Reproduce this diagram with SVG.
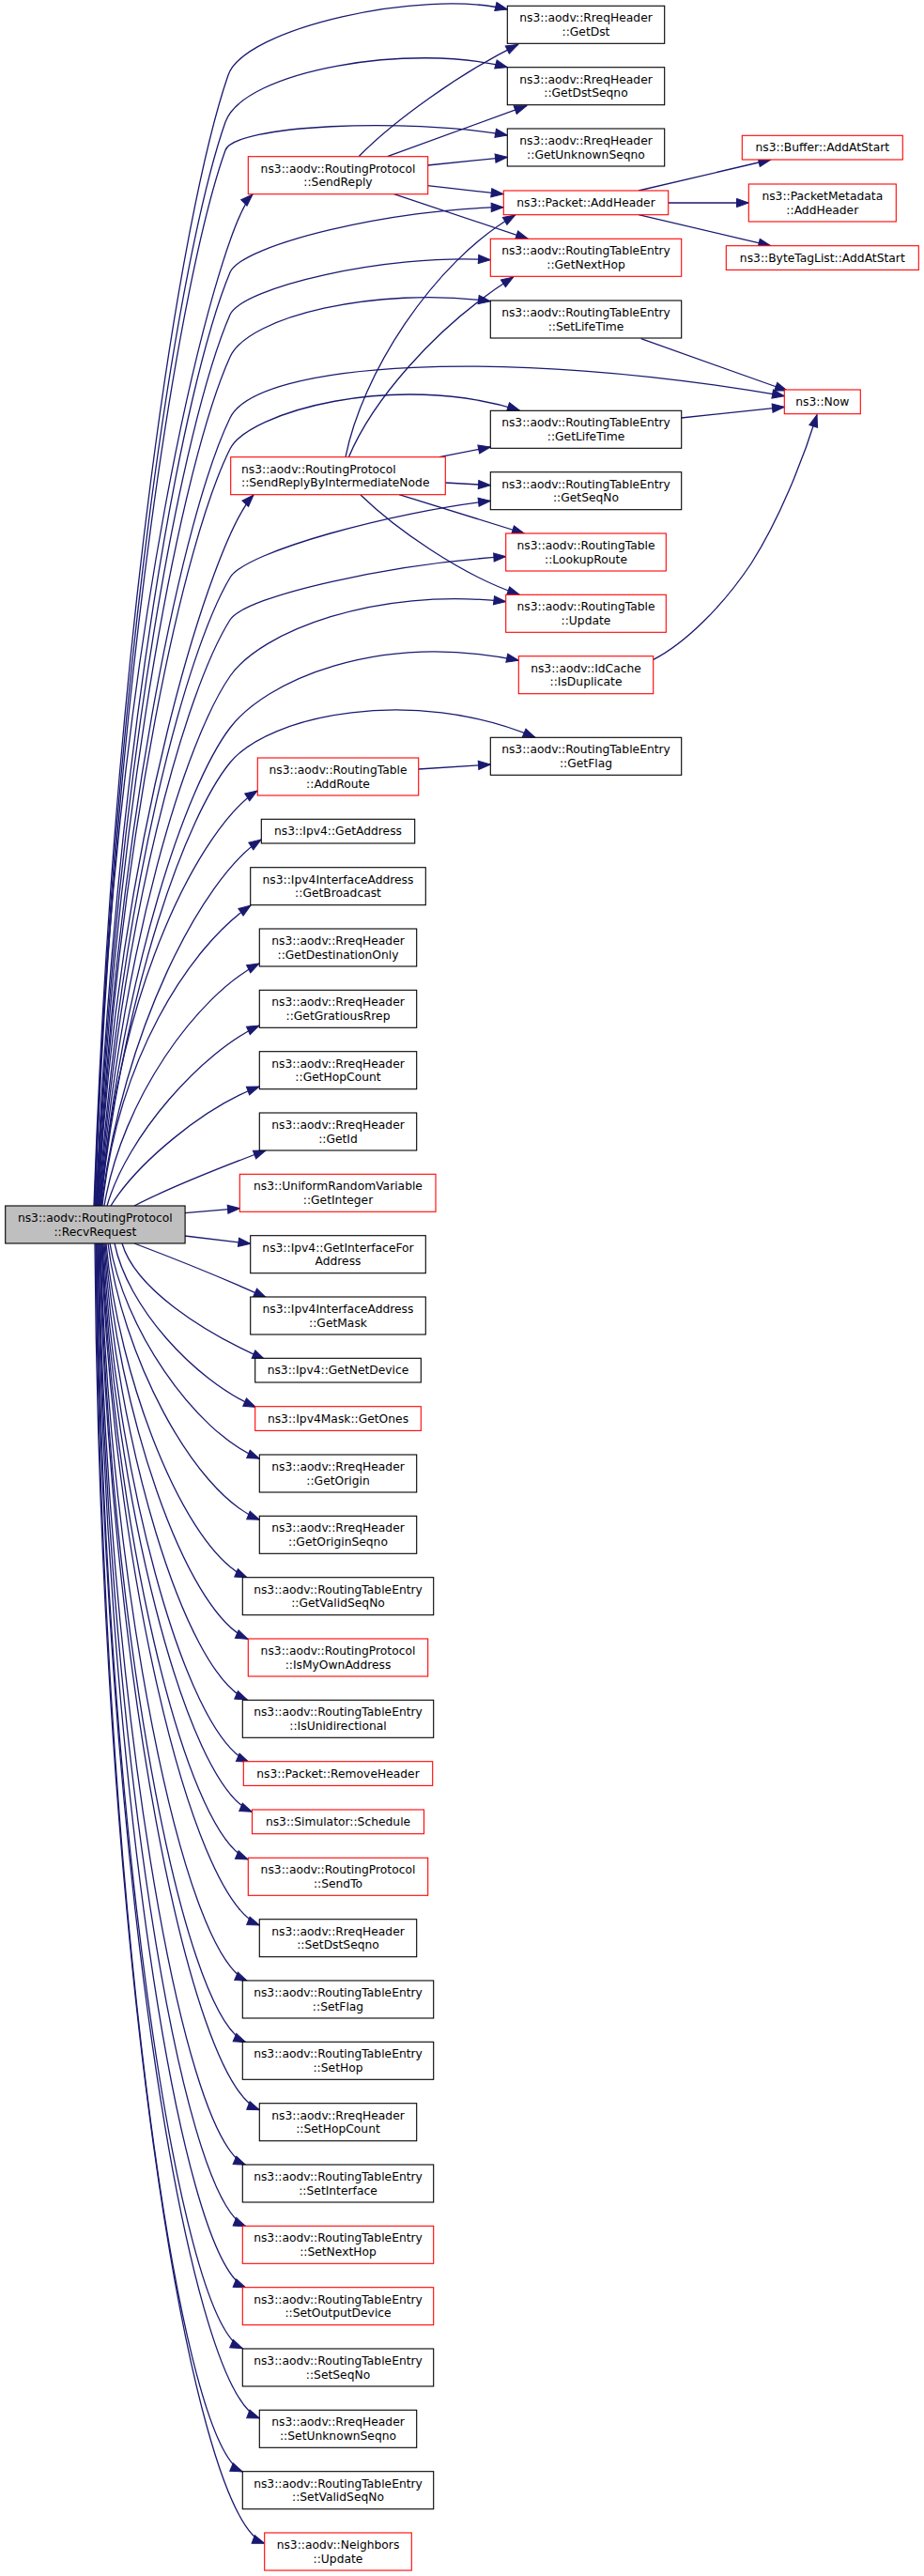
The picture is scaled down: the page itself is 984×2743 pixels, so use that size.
<svg xmlns="http://www.w3.org/2000/svg" width="984" height="2743" viewBox="0 0 984 2743">
<style>
.n rect{fill:#fff;stroke:#000;stroke-width:1.1}
.r rect{stroke:#f00}
.root rect{fill:#bfbfbf;stroke:#000;stroke-width:1.1}
text{font-family:"DejaVu Sans","Liberation Sans",sans-serif;font-size:12.3px;text-anchor:middle;fill:#000}
text.l{text-anchor:start}
#edges path{fill:none;stroke:#191970;stroke-width:1.3;marker-end:url(#a)}
</style>
<defs>
<marker id="a" markerUnits="userSpaceOnUse" viewBox="0 0 15 10" markerWidth="15" markerHeight="10" refX="13.3" refY="5" orient="auto" overflow="visible">
<path d="M0.5,0.4 L13.3,5 L0.5,9.6 Z" fill="#191970" stroke="#191970" stroke-width="1"/>
</marker>
</defs>
<rect width="984" height="2743" fill="#fff"/>
<g id="edges">
<path d="M100,1284 C121.5,682 193,224.5 243,80 C260.5,29.4 450,-12 540.3,10"/>
<path d="M100.5,1284 C121.9,707 191.3,268.5 240,130 C259.5,74.6 440,45 540.3,71.7"/>
<path d="M101,1284 C122.7,722 191.7,294.9 240,160 C249.7,133 430,125 540.3,144"/>
<path d="M101.5,1284 C115,700 230,245 269,207"/>
<path d="M102,1284 C124.3,787 195.3,409.3 245,290 C257.4,260.2 420,222 536,220.7"/>
<path d="M102.5,1284 C125,809.5 195.6,448.9 245,335 C257.4,306.5 410,270 522.3,276.7"/>
<path d="M103,1284 C126,832 196,488.5 245,380 C264.6,336.6 400,305 522.3,320.7"/>
<path d="M103.5,1284 C126.9,864.5 196.4,545.7 245,445 C274,384.6 540,370 835.3,421.7"/>
<path d="M104,1284 C127.7,881 196.7,574.7 245,478 C264.3,439.3 420,395 553.3,437"/>
<path d="M104.5,1284 C125,900 225,575 270,527"/>
<path d="M105,1284 C129.4,949.5 197.4,695.3 245,615 C261.7,586.9 420,545 522.3,533.3"/>
<path d="M105.5,1284 C130.3,972 197.8,734.9 245,660 C261.5,633.8 420,600 538.7,592.7"/>
<path d="M106,1284 C131.1,1002 198.1,787.7 245,720 C277.8,672.6 400,625 538.7,640.7"/>
<path d="M106.5,1284 C132,1029.5 198.5,836.1 245,775 C282.2,726.1 400,672 552.3,703.3"/>
<path d="M107,1284 C132.8,1048 198.8,868.6 245,812 C286.6,761 440,730 570,785.3"/>
<path d="M107.5,1284 C125,1050 215,880 274,842"/>
<path d="M108,1284 C130,1100 215,935 278,894"/>
<path d="M109,1284 C125,1130 200,1010 267,964"/>
<path d="M111,1284 C130,1170 210,1060 276,1026"/>
<path d="M114,1284 C135,1210 215,1120 276,1092"/>
<path d="M118,1284 C145,1240 215,1180 276,1157"/>
<path d="M143,1284 C170,1270 230,1245 283,1225"/>
<path d="M196.7,1291.7 L255.3,1286.7"/>
<path d="M196.7,1316 L266.7,1324.3"/>
<path d="M143,1324 C180,1338 240,1362 283.3,1381.7"/>
<path d="M130,1324 C143.7,1370.9 213.4,1417.3 281.7,1447.3"/>
<path d="M122,1324 C135.5,1390.2 204.7,1468.3 272.3,1498.3"/>
<path d="M117,1324 C131.3,1411.4 204.6,1523.3 276.3,1553.3"/>
<path d="M115,1324 C128.9,1438.5 203.7,1588.3 276.3,1618.3"/>
<path d="M113,1324 C125.5,1465.3 195.7,1650 263.3,1680"/>
<path d="M112,1324 C124.1,1495 195.6,1715.3 264,1745.3"/>
<path d="M111,1324 C122.6,1525.2 194.8,1780 263.3,1810"/>
<path d="M110,1324 C121.3,1557.6 195.3,1846.3 265,1876.3"/>
<path d="M109,1324 C120.2,1584.3 196.6,1899.3 268.3,1929.3"/>
<path d="M108.5,1324 C119,1610 194,1950 264,1980"/>
<path d="M108,1324 C118.8,1647.1 200.6,2020 276.3,2050"/>
<path d="M107,1324 C116.5,1679.7 193,2079.3 263.3,2109.3"/>
<path d="M106.5,1324 C115.4,1716.2 191.9,2144.7 261.7,2174.7"/>
<path d="M106,1324 C115.1,1758.6 199.7,2216.7 276.3,2246.7"/>
<path d="M105,1324 C112.9,1793.1 191.2,2275.3 261.7,2305.3"/>
<path d="M104.5,1324 C111.9,1833.7 191,2340.7 261.7,2370.7"/>
<path d="M104,1324 C110.9,1874.4 190.7,2406 261.7,2436"/>
<path d="M103,1324 C109.3,1917 188.4,2470.7 258.3,2500.7"/>
<path d="M102.5,1324 C108.9,1965.8 198.1,2545 276.3,2575"/>
<path d="M102,1324 C107.3,2005.5 188,2602 258.3,2632"/>
<path d="M101,1324 C106.4,2057.7 200.4,2678.3 281.7,2708.3"/>
<path d="M382,166.7 C420,128 490,78 551.7,47.3"/>
<path d="M412.5,166.7 L560.7,112.7"/>
<path d="M455.3,176 L540.3,167.3"/>
<path d="M455.3,197.7 L536,206.7"/>
<path d="M419.6,206.7 L562.3,254.3"/>
<path d="M368,486.7 C385,400 460,280 548.7,229"/>
<path d="M371.4,486.7 C395,430 460,350 546.7,295"/>
<path d="M467.9,486.7 L522.3,476"/>
<path d="M474.3,514 L522.3,516.7"/>
<path d="M425,526.7 L558.3,568"/>
<path d="M384,527 C420,562 490,612 553.3,633.3"/>
<path d="M680,203 L820.7,170"/>
<path d="M711.3,216 L797.3,216"/>
<path d="M680,228.7 L820.7,261.7"/>
<path d="M682.7,360.7 L838.3,416"/>
<path d="M725.3,445 L835.3,433.3"/>
<path d="M695.3,702.7 C730,685 770,645 800,600 C830,553 855,490 870,441.7"/>
<path d="M445.4,819 L522.3,814"/>
</g>
<g id="n_root" class="root"><rect x="5.7" y="1284" width="191.4" height="40"/><text x="101.3" y="1301">ns3::aodv::RoutingProtocol</text><text x="101.3" y="1315.5">::RecvRequest</text></g>
<g id="n_getdst" class="n"><rect x="540.3" y="6.3" width="167.4" height="40"/><text x="624" y="23.3">ns3::aodv::RreqHeader</text><text x="624" y="37.8">::GetDst</text></g>
<g id="n_getdstseqno" class="n"><rect x="540.3" y="71.7" width="167.4" height="40"/><text x="624" y="88.7">ns3::aodv::RreqHeader</text><text x="624" y="103.2">::GetDstSeqno</text></g>
<g id="n_getunknownseqno" class="n"><rect x="540.3" y="137" width="167.4" height="40"/><text x="624" y="154">ns3::aodv::RreqHeader</text><text x="624" y="168.5">::GetUnknownSeqno</text></g>
<g id="n_addheader" class="n r"><rect x="536.3" y="203" width="175.4" height="25.7"/><text x="624" y="220">ns3::Packet::AddHeader</text></g>
<g id="n_getnexthop" class="n r"><rect x="522.3" y="254.3" width="203.4" height="40"/><text x="624" y="271.3">ns3::aodv::RoutingTableEntry</text><text x="624" y="285.8">::GetNextHop</text></g>
<g id="n_setlifetime" class="n"><rect x="522.3" y="320" width="203.4" height="40"/><text x="624" y="337">ns3::aodv::RoutingTableEntry</text><text x="624" y="351.5">::SetLifeTime</text></g>
<g id="n_getlifetime" class="n"><rect x="522.3" y="437.3" width="203.4" height="40"/><text x="624" y="454.3">ns3::aodv::RoutingTableEntry</text><text x="624" y="468.8">::GetLifeTime</text></g>
<g id="n_getseqno" class="n"><rect x="522.3" y="502.7" width="203.4" height="40"/><text x="624" y="519.7">ns3::aodv::RoutingTableEntry</text><text x="624" y="534.2">::GetSeqNo</text></g>
<g id="n_lookuproute" class="n r"><rect x="538.7" y="568" width="170.6" height="40"/><text x="624" y="585">ns3::aodv::RoutingTable</text><text x="624" y="599.5">::LookupRoute</text></g>
<g id="n_rtupdate" class="n r"><rect x="538.7" y="633.3" width="170.6" height="40"/><text x="624" y="650.3">ns3::aodv::RoutingTable</text><text x="624" y="664.8">::Update</text></g>
<g id="n_isduplicate" class="n r"><rect x="552.3" y="698.7" width="143.4" height="40"/><text x="624" y="715.7">ns3::aodv::IdCache</text><text x="624" y="730.2">::IsDuplicate</text></g>
<g id="n_getflag" class="n"><rect x="522.3" y="785.3" width="203.4" height="40"/><text x="624" y="802.3">ns3::aodv::RoutingTableEntry</text><text x="624" y="816.8">::GetFlag</text></g>
<g id="n_bufferaddatstart" class="n r"><rect x="790.3" y="144.3" width="171" height="25.7"/><text x="875.8" y="161.3">ns3::Buffer::AddAtStart</text></g>
<g id="n_pmaddheader" class="n r"><rect x="797.3" y="196" width="157" height="40"/><text x="875.8" y="213">ns3::PacketMetadata</text><text x="875.8" y="227.5">::AddHeader</text></g>
<g id="n_bytetaglist" class="n r"><rect x="773.3" y="261.7" width="205" height="25.7"/><text x="875.8" y="278.7">ns3::ByteTagList::AddAtStart</text></g>
<g id="n_now" class="n r"><rect x="835.3" y="415" width="81" height="25.7"/><text x="875.8" y="432">ns3::Now</text></g>
<g id="n_sendreply" class="n r"><rect x="264.3" y="166.7" width="191.4" height="40"/><text x="360" y="183.7">ns3::aodv::RoutingProtocol</text><text x="360" y="198.2">::SendReply</text></g>
<g id="n_srbin" class="n r"><rect x="245.7" y="486.7" width="228.6" height="40"/><text class="l" x="257" y="503.7">ns3::aodv::RoutingProtocol</text><text class="l" x="257" y="518.2">::SendReplyByIntermediateNode</text></g>
<g id="n_addroute" class="n r"><rect x="274.3" y="807" width="171.4" height="40"/><text x="360" y="824">ns3::aodv::RoutingTable</text><text x="360" y="838.5">::AddRoute</text></g>
<g id="n_getaddress" class="n"><rect x="278.3" y="872.3" width="163.4" height="25.7"/><text x="360" y="889.3">ns3::Ipv4::GetAddress</text></g>
<g id="n_getbroadcast" class="n"><rect x="266.7" y="923.7" width="186.6" height="40"/><text x="360" y="940.7">ns3::Ipv4InterfaceAddress</text><text x="360" y="955.2">::GetBroadcast</text></g>
<g id="n_getdestinationonly" class="n"><rect x="276.3" y="989" width="167.4" height="40"/><text x="360" y="1006">ns3::aodv::RreqHeader</text><text x="360" y="1020.5">::GetDestinationOnly</text></g>
<g id="n_getgratiousrrep" class="n"><rect x="276.3" y="1054.3" width="167.4" height="40"/><text x="360" y="1071.3">ns3::aodv::RreqHeader</text><text x="360" y="1085.8">::GetGratiousRrep</text></g>
<g id="n_gethopcount" class="n"><rect x="276.3" y="1119.7" width="167.4" height="40"/><text x="360" y="1136.7">ns3::aodv::RreqHeader</text><text x="360" y="1151.2">::GetHopCount</text></g>
<g id="n_getid" class="n"><rect x="276.3" y="1185" width="167.4" height="40"/><text x="360" y="1202">ns3::aodv::RreqHeader</text><text x="360" y="1216.5">::GetId</text></g>
<g id="n_getinteger" class="n r"><rect x="255.3" y="1250.3" width="208.7" height="40"/><text x="360" y="1267.3">ns3::UniformRandomVariable</text><text x="360" y="1281.8">::GetInteger</text></g>
<g id="n_getinterfaceforaddress" class="n"><rect x="266.7" y="1315.7" width="186.6" height="40"/><text x="360" y="1332.7">ns3::Ipv4::GetInterfaceFor</text><text x="360" y="1347.2">Address</text></g>
<g id="n_getmask" class="n"><rect x="266.7" y="1381" width="186.6" height="40"/><text x="360" y="1398">ns3::Ipv4InterfaceAddress</text><text x="360" y="1412.5">::GetMask</text></g>
<g id="n_getnetdevice" class="n"><rect x="271.7" y="1446.3" width="176.6" height="25.7"/><text x="360" y="1463.3">ns3::Ipv4::GetNetDevice</text></g>
<g id="n_getones" class="n r"><rect x="271.7" y="1497.7" width="176.6" height="25.7"/><text x="360" y="1514.7">ns3::Ipv4Mask::GetOnes</text></g>
<g id="n_getorigin" class="n"><rect x="276.3" y="1549" width="167.4" height="40"/><text x="360" y="1566">ns3::aodv::RreqHeader</text><text x="360" y="1580.5">::GetOrigin</text></g>
<g id="n_getoriginseqno" class="n"><rect x="276.3" y="1614.3" width="167.4" height="40"/><text x="360" y="1631.3">ns3::aodv::RreqHeader</text><text x="360" y="1645.8">::GetOriginSeqno</text></g>
<g id="n_getvalidseqno" class="n"><rect x="258.3" y="1679.7" width="203.4" height="40"/><text x="360" y="1696.7">ns3::aodv::RoutingTableEntry</text><text x="360" y="1711.2">::GetValidSeqNo</text></g>
<g id="n_ismyownaddress" class="n r"><rect x="264.3" y="1745" width="191.4" height="40"/><text x="360" y="1762">ns3::aodv::RoutingProtocol</text><text x="360" y="1776.5">::IsMyOwnAddress</text></g>
<g id="n_isunidirectional" class="n"><rect x="258.3" y="1810.3" width="203.4" height="40"/><text x="360" y="1827.3">ns3::aodv::RoutingTableEntry</text><text x="360" y="1841.8">::IsUnidirectional</text></g>
<g id="n_removeheader" class="n r"><rect x="259.3" y="1875.7" width="201.4" height="25.7"/><text x="360" y="1892.7">ns3::Packet::RemoveHeader</text></g>
<g id="n_schedule" class="n r"><rect x="268.5" y="1927" width="183" height="25.7"/><text x="360" y="1944">ns3::Simulator::Schedule</text></g>
<g id="n_sendto" class="n r"><rect x="264.3" y="1978.3" width="191.4" height="40"/><text x="360" y="1995.3">ns3::aodv::RoutingProtocol</text><text x="360" y="2009.8">::SendTo</text></g>
<g id="n_setdstseqno" class="n"><rect x="276.3" y="2043.7" width="167.4" height="40"/><text x="360" y="2060.7">ns3::aodv::RreqHeader</text><text x="360" y="2075.2">::SetDstSeqno</text></g>
<g id="n_setflag" class="n"><rect x="258.3" y="2109" width="203.4" height="40"/><text x="360" y="2126">ns3::aodv::RoutingTableEntry</text><text x="360" y="2140.5">::SetFlag</text></g>
<g id="n_sethop" class="n"><rect x="258.3" y="2174.3" width="203.4" height="40"/><text x="360" y="2191.3">ns3::aodv::RoutingTableEntry</text><text x="360" y="2205.8">::SetHop</text></g>
<g id="n_sethopcount" class="n"><rect x="276.3" y="2239.7" width="167.4" height="40"/><text x="360" y="2256.7">ns3::aodv::RreqHeader</text><text x="360" y="2271.2">::SetHopCount</text></g>
<g id="n_setinterface" class="n"><rect x="258.3" y="2305" width="203.4" height="40"/><text x="360" y="2322">ns3::aodv::RoutingTableEntry</text><text x="360" y="2336.5">::SetInterface</text></g>
<g id="n_setnexthop" class="n r"><rect x="258.3" y="2370.3" width="203.4" height="40"/><text x="360" y="2387.3">ns3::aodv::RoutingTableEntry</text><text x="360" y="2401.8">::SetNextHop</text></g>
<g id="n_setoutputdevice" class="n r"><rect x="258.3" y="2435.7" width="203.4" height="40"/><text x="360" y="2452.7">ns3::aodv::RoutingTableEntry</text><text x="360" y="2467.2">::SetOutputDevice</text></g>
<g id="n_setseqno" class="n"><rect x="258.3" y="2501" width="203.4" height="40"/><text x="360" y="2518">ns3::aodv::RoutingTableEntry</text><text x="360" y="2532.5">::SetSeqNo</text></g>
<g id="n_setunknownseqno" class="n"><rect x="276.3" y="2566.3" width="167.4" height="40"/><text x="360" y="2583.3">ns3::aodv::RreqHeader</text><text x="360" y="2597.8">::SetUnknownSeqno</text></g>
<g id="n_setvalidseqno" class="n"><rect x="258.3" y="2631.7" width="203.4" height="40"/><text x="360" y="2648.7">ns3::aodv::RoutingTableEntry</text><text x="360" y="2663.2">::SetValidSeqNo</text></g>
<g id="n_neighborsupdate" class="n r"><rect x="281.7" y="2697" width="156.6" height="40"/><text x="360" y="2714">ns3::aodv::Neighbors</text><text x="360" y="2728.5">::Update</text></g>
</svg>
